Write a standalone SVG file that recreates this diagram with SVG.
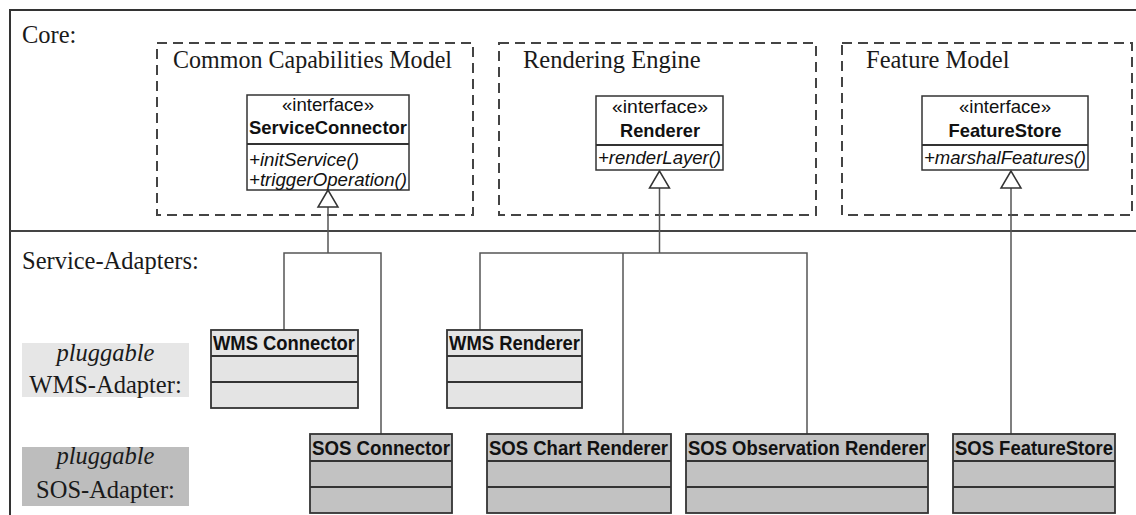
<svg xmlns="http://www.w3.org/2000/svg" width="1136" height="515" viewBox="0 0 1136 515">
<defs>
<style>
.serif{font-family:"Liberation Serif","Times New Roman",serif;font-size:24.5px;fill:#1a1a1a}
.sans{font-family:"Liberation Sans",Arial,sans-serif;font-size:18.5px;fill:#111}
.hd{font-family:"Liberation Sans",Arial,sans-serif;font-size:19.5px;font-weight:bold;fill:#111}
.b{font-weight:bold}
.i{font-style:italic}
.dash{fill:none;stroke:#444;stroke-width:2;stroke-dasharray:10,6}
.box{stroke:#333;stroke-width:1.8}
.iface{fill:#fff;stroke:#333;stroke-width:1.5}
.wms{fill:#e4e4e4}
.sos{fill:#c2c2c2}
.sep{stroke:#333;stroke-width:1.8}
.conn{fill:none;stroke:#555;stroke-width:1.5}
.tri{fill:#fff;stroke:#333;stroke-width:1.5}
.frame{fill:none;stroke:#333;stroke-width:2}
</style>
</defs>
<rect width="1136" height="515" fill="#fff"/>
<g id="frame">
<path class="frame" d="M1136 10 H10 V515"/>
<line x1="10" y1="231" x2="1136" y2="231" stroke="#444" stroke-width="2"/>
<text class="serif" x="22" y="43">Core:</text>
<text class="serif" x="22" y="269">Service-Adapters:</text>
</g>
<g id="wms-adapter-label">
<rect x="22" y="343" width="167" height="54" fill="#e6e6e6"/>
<text class="serif i" x="105.5" y="361" text-anchor="middle">pluggable</text>
<text class="serif" x="105.5" y="393" text-anchor="middle">WMS-Adapter:</text>
</g>
<g id="sos-adapter-label">
<rect x="22" y="447" width="167" height="59" fill="#bdbdbd"/>
<text class="serif i" x="105.5" y="464" text-anchor="middle">pluggable</text>
<text class="serif" x="105.5" y="498" text-anchor="middle">SOS-Adapter:</text>
</g>
<g id="common-capabilities-model">
<rect class="dash" x="157" y="43" width="316" height="172"/>
<text class="serif" x="173" y="68" textLength="279" lengthAdjust="spacingAndGlyphs">Common Capabilities Model</text>
</g>
<g id="rendering-engine">
<rect class="dash" x="499" y="43" width="317" height="172"/>
<text class="serif" x="523" y="68">Rendering Engine</text>
</g>
<g id="feature-model">
<rect class="dash" x="842" y="43" width="290" height="172"/>
<text class="serif" x="866" y="68">Feature Model</text>
</g>
<g id="service-connector">
<rect class="iface" x="247" y="95" width="162" height="95"/>
<line class="sep" x1="247" y1="144" x2="409" y2="144" stroke-width="1.5"/>
<text class="sans" x="328" y="111" text-anchor="middle" textLength="92" lengthAdjust="spacingAndGlyphs">«interface»</text>
<text class="sans b" x="328" y="134" text-anchor="middle" textLength="158" lengthAdjust="spacingAndGlyphs">ServiceConnector</text>
<text class="sans i" x="249" y="166" textLength="110" lengthAdjust="spacingAndGlyphs">+initService()</text>
<text class="sans i" x="249" y="186" textLength="158" lengthAdjust="spacingAndGlyphs">+triggerOperation()</text>
</g>
<g id="renderer">
<rect class="iface" x="596" y="96" width="127" height="74"/>
<line class="sep" x1="596" y1="145" x2="723" y2="145" stroke-width="1.5"/>
<text class="sans" x="660" y="113" text-anchor="middle" textLength="96" lengthAdjust="spacingAndGlyphs">«interface»</text>
<text class="sans b" x="660" y="137" text-anchor="middle" textLength="80" lengthAdjust="spacingAndGlyphs">Renderer</text>
<text class="sans i" x="598" y="164" textLength="123" lengthAdjust="spacingAndGlyphs">+renderLayer()</text>
</g>
<g id="feature-store">
<rect class="iface" x="922" y="96" width="166" height="74"/>
<line class="sep" x1="922" y1="145" x2="1088" y2="145" stroke-width="1.5"/>
<text class="sans" x="1005" y="113" text-anchor="middle" textLength="92" lengthAdjust="spacingAndGlyphs">«interface»</text>
<text class="sans b" x="1005" y="137" text-anchor="middle" textLength="113" lengthAdjust="spacingAndGlyphs">FeatureStore</text>
<text class="sans i" x="924" y="164" textLength="162" lengthAdjust="spacingAndGlyphs">+marshalFeatures()</text>
</g>
<g id="connectors">
<path class="conn" d="M328 207 V253 M284 330 V253 H381 V434"/>
<path class="conn" d="M659.5 188 V253 M480 330 V253 H807 V434 M623 253 V434"/>
<path class="conn" d="M1011 188 V434"/>
<path class="tri" d="M328 190 L318 207 H338 Z"/>
<path class="tri" d="M659.5 171 L649.5 188 H669.5 Z"/>
<path class="tri" d="M1011 171 L1001 188 H1021 Z"/>
</g>
<g id="wms-connector">
<rect class="box wms" x="211" y="330" width="147" height="78"/>
<path class="sep" d="M211 356 H358 M211 382 H358"/>
<text class="hd" x="213" y="350" textLength="142" lengthAdjust="spacingAndGlyphs">WMS Connector</text>
</g>
<g id="wms-renderer">
<rect class="box wms" x="447" y="330" width="135" height="78"/>
<path class="sep" d="M447 356 H582 M447 382 H582"/>
<text class="hd" x="449" y="350" textLength="131" lengthAdjust="spacingAndGlyphs">WMS Renderer</text>
</g>
<g id="sos-connector">
<rect class="box sos" x="310" y="434" width="142" height="79"/>
<path class="sep" d="M310 461 H452 M310 487 H452"/>
<text class="hd" x="312" y="455" textLength="138" lengthAdjust="spacingAndGlyphs">SOS Connector</text>
</g>
<g id="sos-chart-renderer">
<rect class="box sos" x="487" y="434" width="184" height="79"/>
<path class="sep" d="M487 461 H671 M487 487 H671"/>
<text class="hd" x="489" y="455" textLength="179" lengthAdjust="spacingAndGlyphs">SOS Chart Renderer</text>
</g>
<g id="sos-observation-renderer">
<rect class="box sos" x="686" y="434" width="242" height="79"/>
<path class="sep" d="M686 461 H928 M686 487 H928"/>
<text class="hd" x="688" y="455" textLength="238" lengthAdjust="spacingAndGlyphs">SOS Observation Renderer</text>
</g>
<g id="sos-featurestore">
<rect class="box sos" x="953" y="434" width="162" height="79"/>
<path class="sep" d="M953 461 H1115 M953 487 H1115"/>
<text class="hd" x="955" y="455" textLength="158" lengthAdjust="spacingAndGlyphs">SOS FeatureStore</text>
</g>
</svg>
